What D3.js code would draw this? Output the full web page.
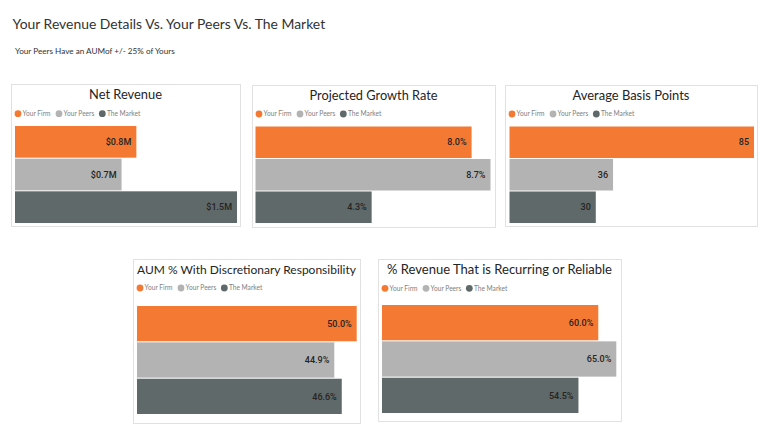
<!DOCTYPE html>
<html>
<head>
<meta charset="utf-8">
<script src="https://cdn.jsdelivr.net/npm/d3@7"></script>
<style>
  html, body { margin: 0; padding: 0; background: #fff; }
  svg { display: block; }
</style>
</head>
<body>
<svg id="chart" width="770" height="444"></svg>
<script>
// ---------------- DATA ----------------
const seriesNames = ["Your Firm", "Your Peers", "The Market"];
const pageTitle = "Your Revenue Details Vs. Your Peers Vs. The Market";
const pageSubtitle = "Your Peers Have an AUMof +/- 25% of Yours";
const chartTitles = [
  "Net Revenue",
  "Projected Growth Rate",
  "Average Basis Points",
  "AUM % With Discretionary Responsibility",
  "% Revenue That is Recurring or Reliable"
];
const netRevenue = [0.82, 0.72, 1.50];      // $M
const growthRate = [8.0, 8.7, 4.3];          // %
const basisPoints = [85, 36, 30];            // bps
const aumDiscretionary = [50.0, 44.9, 46.6]; // %
const recurringRevenue = [60.0, 65.0, 54.5]; // %

// ---------------- STYLE / LAYOUT ----------------
const colors = ["#F47A34", "#B3B3B3", "#5F6969"];
const legendOffsets = [0, 41, 84.3];
const fmtMoney = v => "$" + d3.format(".1f")(v) + "M";
const fmtPct = v => d3.format(".1f")(v) + "%";
const fmtInt = v => d3.format("d")(v);

const panels = [
  { data: netRevenue, fmt: fmtMoney, box: [11, 84, 240, 226], titleY: 99, titleW: 73, legendY: 113.7, plot: [15, 126, 237, 223] },
  { data: growthRate, fmt: fmtPct, box: [252, 85, 495, 227], titleY: 99.5, titleW: 128, legendY: 114, plot: [255.5, 126.5, 490.5, 223] },
  { data: basisPoints, fmt: fmtInt, box: [505, 85, 757, 226], titleY: 99.5, titleW: 117, legendY: 114, plot: [509.5, 126.5, 754, 223] },
  { data: aumDiscretionary, fmt: fmtPct, box: [133, 259, 360, 423], titleY: 273.5, titleW: 219, legendY: 288, plot: [137, 306, 356.7, 414] },
  { data: recurringRevenue, fmt: fmtPct, box: [378, 259, 621, 421], titleY: 273.5, titleW: 225, legendY: 288.3, plot: [382, 305, 616.3, 413] }
];

const svg = d3.select("#chart");
const titleFont = "Lato, 'Open Sans', sans-serif";

function fitWidth(sel, target) {
  const node = sel.node();
  const w = node.getComputedTextLength();
  const fs = parseFloat(sel.attr("font-size"));
  if (w > 0) sel.attr("font-size", (fs * target / w).toFixed(2));
}

// page title
const t = svg.append("text")
  .attr("x", 12.5).attr("y", 28.5)
  .attr("font-family", titleFont).attr("font-size", 16)
  .attr("fill", "#333333").text(pageTitle);
fitWidth(t, 313);

const st = svg.append("text")
  .attr("x", 15).attr("y", 54)
  .attr("font-family", titleFont).attr("font-size", 9)
  .attr("fill", "#333333").text(pageSubtitle);
fitWidth(st, 160);

panels.forEach((p, i) => {
  const g = svg.append("g");
  const [bx0, by0, bx1, by1] = p.box;
  g.append("rect")
    .attr("x", bx0 + 0.5).attr("y", by0 + 0.5)
    .attr("width", bx1 - bx0).attr("height", by1 - by0)
    .attr("fill", "#fff").attr("stroke", "#E1E1E1").attr("stroke-width", 1);

  // title
  const tt = g.append("text")
    .attr("x", (bx0 + bx1) / 2).attr("y", p.titleY)
    .attr("text-anchor", "middle")
    .attr("font-family", titleFont).attr("font-size", 13)
    .attr("fill", "#252423").text(chartTitles[i]);
  fitWidth(tt, p.titleW);

  // legend
  seriesNames.forEach((name, k) => {
    const cx = bx0 + 7 + legendOffsets[k];
    g.append("circle").attr("cx", cx).attr("cy", p.legendY).attr("r", 3.4).attr("fill", colors[k]);
    g.append("text")
      .attr("x", cx + 4.6).attr("y", p.legendY + 2.4)
      .attr("font-family", titleFont).attr("font-size", 6.6)
      .attr("fill", "#808080").text(name);
  });

  // bars
  const [px0, py0, px1, py1] = p.plot;
  const x = d3.scaleLinear().domain([0, d3.max(p.data)]).range([px0, px1]);
  const y = d3.scaleBand().domain(seriesNames).range([py0, py1]).paddingInner(0.03).paddingOuter(0);

  g.selectAll("rect.bar").data(p.data).enter().append("rect")
    .attr("class", "bar")
    .attr("x", x(0))
    .attr("y", (d, k) => y(seriesNames[k]))
    .attr("width", d => x(d) - x(0))
    .attr("height", y.bandwidth())
    .attr("fill", (d, k) => colors[k]);

  g.selectAll("text.lbl").data(p.data).enter().append("text")
    .attr("class", "lbl")
    .attr("x", d => x(d) - 5)
    .attr("y", (d, k) => y(seriesNames[k]) + y.bandwidth() / 2)
    .attr("dy", "0.35em")
    .attr("text-anchor", "end")
    .attr("font-family", "'Roboto', 'DejaVu Sans Condensed', sans-serif")
    .attr("font-weight", 500)
    .attr("font-size", 9)
    .attr("fill", "#252423")
    .text(d => p.fmt(d));
});
</script>
</body>
</html>
